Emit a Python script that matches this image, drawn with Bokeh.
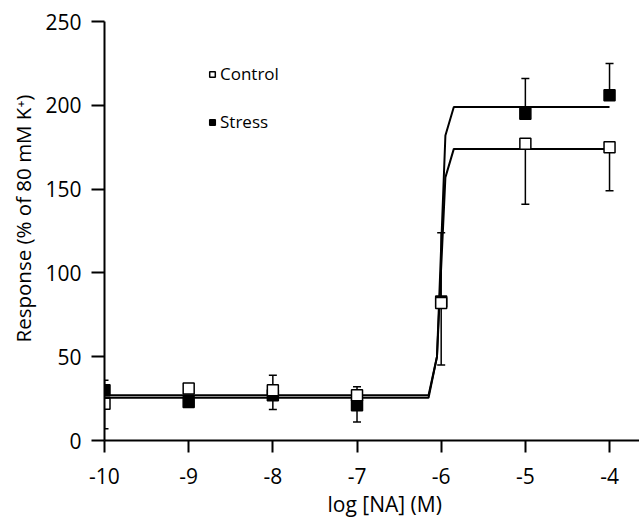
from bokeh.plotting import figure
from bokeh.models import Range1d, FixedTicker, Legend, LegendItem, Title
from bokeh.embed import file_html
from bokeh.resources import INLINE

# ---- data ----
log_na = [-10, -9, -8, -7, -6, -5, -4]
control = [22, 31, 30, 27, 82, 177, 175]
control_err = [15, 2, 9, 5, 37, 36, 26]
stress = [30, 23, 27, 21, 83, 195, 206]
stress_err = [6, 3, 8.5, 10, 41, 21, 19]

fit_x = [-10, -6.15, -6.05, -5.95, -5.85, -4]
control_fit = [27, 27, 50, 157, 174, 174]
stress_fit = [25.5, 25.5, 50, 182, 199, 199]

x_ticks = [-10, -9, -8, -7, -6, -5, -4]
x_tick_labels = ["-10", "-9", "-8", "-7", "-6", "-5", "-4"]
y_ticks = [0, 50, 100, 150, 200, 250]

FONT = "Open Sans"

p = figure(width=639, height=519, output_backend="svg", toolbar_location=None,
           x_range=Range1d(-10, -3.644), y_range=Range1d(0, 250),
           min_border_left=104, min_border_right=0, min_border_top=21,
           min_border_bottom=79)
p.outline_line_color = None
p.xgrid.visible = False
p.ygrid.visible = False

for ax in (p.xaxis[0], p.yaxis[0]):
    ax.axis_line_color = "black"
    ax.axis_line_width = 2
    ax.major_tick_line_color = "black"
    ax.major_tick_line_width = 2
    ax.major_tick_in = 0
    ax.minor_tick_line_color = None
    ax.major_label_text_font = FONT
    ax.major_label_text_font_size = "21px"
    ax.major_label_text_color = "black"
    ax.major_label_text_line_height = 1.0

p.xaxis.ticker = FixedTicker(ticks=x_ticks)
p.xaxis.major_label_overrides = {t: s for t, s in zip(x_ticks, x_tick_labels)}
p.yaxis.ticker = FixedTicker(ticks=y_ticks)
p.xaxis.major_tick_out = 12
p.yaxis.major_tick_out = 13
p.xaxis.major_label_standoff = 15
p.yaxis.major_label_standoff = 10

# error bars: each series shows the half pointing away from the other series
def err_bars(xs, ys, es, others):
    x0, y0, y1 = [], [], []
    for x, y, e, o in zip(xs, ys, es, others):
        end = y + e if y >= o else y - e
        x0.append(x)
        y0.append(y)
        y1.append(end)
    p.segment(x0, y0, x0, y1, line_color="black", line_width=1.5)
    p.scatter(x0, y1, marker="dash", size=8, line_color="black", line_width=1.5)

err_bars(log_na, stress, stress_err, control)
err_bars(log_na, control, control_err, stress)

# fitted curves
p.line(fit_x, control_fit, line_color="black", line_width=2)
p.line(fit_x, stress_fit, line_color="black", line_width=2)

# markers
r_stress = p.scatter(log_na, stress, marker="square", size=11,
                     fill_color="black", line_color="black", line_width=1.5)
r_control = p.scatter(log_na, control, marker="square", size=11,
                      fill_color="white", line_color="black", line_width=1.5)

legend = Legend(items=[LegendItem(label="Control", renderers=[r_control]),
                       LegendItem(label="Stress", renderers=[r_stress])],
                location=(101, 307), glyph_width=14, glyph_height=14,
                label_standoff=1, spacing=25, padding=0, margin=0,
                border_line_color=None, background_fill_alpha=0,
                label_text_font=FONT, label_text_font_size="17px",
                label_text_color="black")
p.add_layout(legend)

p.add_layout(Title(text="log [NA] (M)", text_font=FONT, text_font_size="21px",
                   text_font_style="normal", align="left", offset=223,
                   standoff=3, text_line_height=1.0, text_color="black"),
             "below")
p.add_layout(Title(text="Response (% of 80 mM K⁺)", text_font=FONT,
                   text_font_size="20.5px", text_font_style="normal",
                   align="left", offset=98, standoff=10, text_line_height=1.0,
                   vertical_align="middle", text_color="black"), "left")

open("out.html", "w").write(file_html(p, INLINE))
